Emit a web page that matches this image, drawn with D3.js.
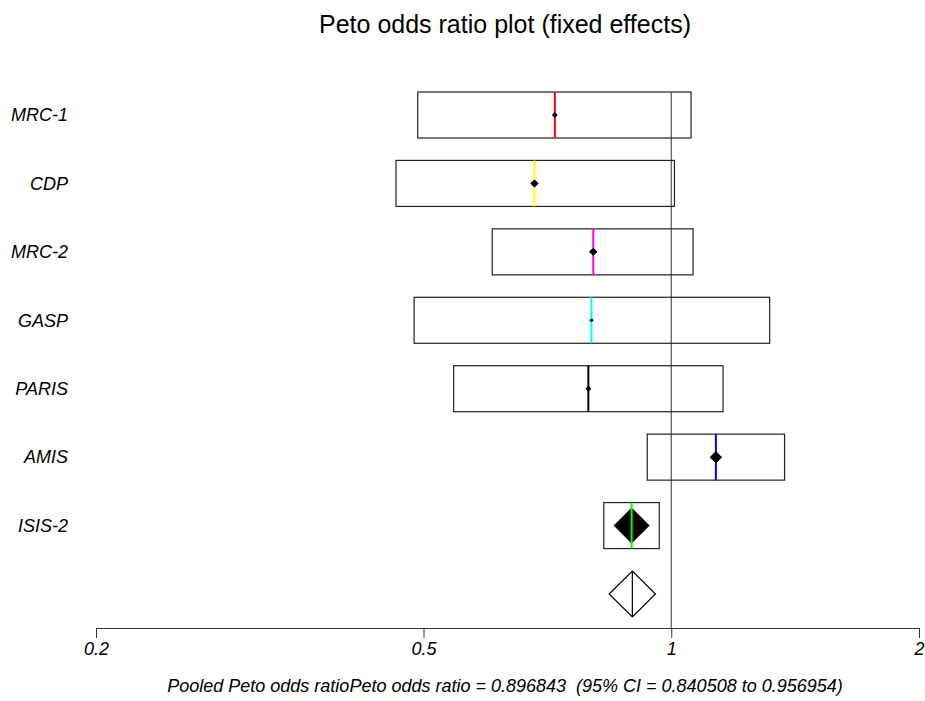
<!DOCTYPE html>
<meta charset="utf-8">
<style>
    body { margin: 0; background: #fff; }
    svg text { font-family: "Liberation Sans", Arial, sans-serif; fill: #000; }
    .lab { font-style: italic; font-size: 18px; }
    .axis text { font-style: italic; font-size: 18px; font-family: "Liberation Sans", Arial, sans-serif; }
    .axis path, .axis line { stroke: #333; }
</style>
<body>
<script src="https://d3js.org/d3.v7.min.js"></script>
<svg width="925" height="701"></svg>
<script>
    // study data
    var studies = ["MRC-1", "CDP", "MRC-2", "GASP", "PARIS", "AMIS", "ISIS-2"];
    var oddsRatio = [0.722, 0.682, 0.804, 0.800, 0.793, 1.133, 0.895];
    var lowerCI = [0.492, 0.463, 0.606, 0.487, 0.544, 0.935, 0.828];
    var upperCI = [1.057, 1.009, 1.063, 1.317, 1.156, 1.373, 0.967];
    var weightPct = [1.8, 3.9, 3.9, 1.0, 1.8, 8.8, 78.9];
    var markColors = ["#ff0000", "#ffff00", "#ff00ff", "#00ffff", "#000000", "#0000ff", "#00ff00"];
    var pooledOR = 0.896843, pooledLo = 0.840508, pooledHi = 0.956954;
    var tickValues = [0.2, 0.5, 1, 2];
    var tickLabels = ["0.2", "0.5", "1", "2"];

    var svg = d3.select("svg");

    var x = d3.scaleLog().domain([0.2, 2]).range([96, 919]);
    var y = d3.scalePoint().domain(studies.concat(["pooled"])).range([115, 594]);
    var half = 23;
    var axisY = 628;
    var size = d3.scaleSqrt().domain([0, d3.max(weightPct)]).range([0, 18]);

    var rows = studies.map(function(s, i) {
        return { name: s, or: oddsRatio[i], lo: lowerCI[i], hi: upperCI[i], w: weightPct[i], col: markColors[i] };
    });

    svg.append("text")
        .attr("x", 505).attr("y", 33)
        .attr("text-anchor", "middle")
        .style("font-size", "25px")
        .text("Peto odds ratio plot (fixed effects)");

    // line of no effect
    svg.append("line")
        .attr("x1", x(1)).attr("x2", x(1))
        .attr("y1", y(studies[0]) - half).attr("y2", axisY)
        .attr("stroke", "#555").attr("stroke-width", 1.2);

    var g = svg.selectAll(".study").data(rows).enter().append("g").attr("class", "study");

    g.append("rect")
        .attr("x", function(d) { return x(d.lo); })
        .attr("y", function(d) { return y(d.name) - half; })
        .attr("width", function(d) { return x(d.hi) - x(d.lo); })
        .attr("height", half * 2)
        .attr("fill", "none").attr("stroke", "#222").attr("stroke-width", 1.2);

    g.append("path")
        .attr("d", function(d) {
            var cx = x(d.or), cy = y(d.name), r = size(d.w);
            return "M" + (cx - r) + "," + cy + "L" + cx + "," + (cy - r) + "L" + (cx + r) + "," + cy + "L" + cx + "," + (cy + r) + "Z";
        })
        .attr("fill", "#000");

    // colour line drawn on top of the weight diamond
    g.append("line")
        .attr("x1", function(d) { return x(d.or); }).attr("x2", function(d) { return x(d.or); })
        .attr("y1", function(d) { return y(d.name) - half; })
        .attr("y2", function(d) { return y(d.name) + half; })
        .attr("stroke", function(d) { return d.col; }).attr("stroke-width", 2);

    // small diamonds sit over the line
    g.filter(function(d) { return size(d.w) < 8; }).append("path")
        .attr("d", function(d) {
            var cx = x(d.or), cy = y(d.name), r = size(d.w);
            return "M" + (cx - r) + "," + cy + "L" + cx + "," + (cy - r) + "L" + (cx + r) + "," + cy + "L" + cx + "," + (cy + r) + "Z";
        })
        .attr("fill", "#000");

    g.append("text")
        .attr("class", "lab")
        .attr("x", 68)
        .attr("y", function(d) { return y(d.name); })
        .attr("dy", "0.35em")
        .attr("text-anchor", "end")
        .text(function(d) { return d.name; });

    // pooled diamond
    var py = y("pooled");
    svg.append("path")
        .attr("d", "M" + x(pooledLo) + "," + py + "L" + x(pooledOR) + "," + (py - half) +
            "L" + x(pooledHi) + "," + py + "L" + x(pooledOR) + "," + (py + half) + "Z")
        .attr("fill", "#fff").attr("stroke", "#000").attr("stroke-width", 1.2);
    svg.append("line")
        .attr("x1", x(pooledOR)).attr("x2", x(pooledOR))
        .attr("y1", py - half).attr("y2", py + half)
        .attr("stroke", "#000").attr("stroke-width", 1.2);

    svg.append("g")
        .attr("class", "axis")
        .attr("transform", "translate(0," + axisY + ")")
        .call(d3.axisBottom(x).tickValues(tickValues)
            .tickFormat(function(d, i) { return tickLabels[i]; })
            .tickSize(10).tickPadding(4))
        .call(function(a) { a.selectAll("text").attr("fill", "#000"); });

    svg.append("text")
        .attr("class", "lab")
        .attr("x", 505).attr("y", 692)
        .attr("text-anchor", "middle")
        .attr("xml:space", "preserve")
        .style("white-space", "pre")
        .text("Pooled Peto odds ratioPeto odds ratio = 0.896843  (95% CI = 0.840508 to 0.956954)");
</script>
</body>
